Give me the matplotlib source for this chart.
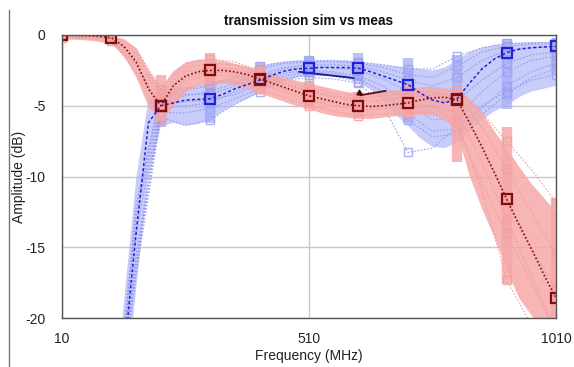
import numpy as np
import matplotlib
matplotlib.use("Agg")
import matplotlib.pyplot as plt
from matplotlib.lines import Line2D

plt.rcParams['font.family'] = ['Liberation Sans', 'DejaVu Sans']

# ---------------- data ----------------
# fine grid (25 MHz) for nominal curves and spread bands
freq = [10, 35, 60, 85, 110, 135, 160, 185, 210, 235, 260, 285, 310, 335, 360, 385,
        410, 435, 460, 485, 510, 535, 560, 585, 610, 635, 660, 685, 710, 735, 760, 785,
        810, 835, 860, 885, 910, 935, 960, 985, 1010]

sim_nominal = [0.0, 0.0, -0.05, -0.1, -0.2, -0.8, -1.9, -3.8, -5.0, -3.6, -2.9, -2.6, -2.5,
               -2.5, -2.6, -2.8, -3.1, -3.4, -3.7, -4.0, -4.3, -4.5, -4.7, -4.9, -5.0, -5.05,
               -5.0, -4.9, -4.8, -4.6, -4.45, -4.4, -4.6, -6.2, -7.9, -9.7, -11.6, -13.4,
               -15.1, -16.9, -18.6]

meas_nominal = [-30, -30, -30, -30, -30, -22.8, -14.0, -6.2, -5.0, -4.8, -4.6, -4.55, -4.5,
                -4.2, -3.8, -3.5, -3.2, -2.85, -2.55, -2.4, -2.35, -2.3, -2.3, -2.3, -2.35,
                -2.6, -2.9, -3.2, -3.5, -4.1, -4.6, -4.8, -4.5, -3.4, -2.4, -1.7, -1.25,
                -1.0, -0.9, -0.85, -0.8]

meas_band_hi = [-30, -30, -30, -30, -28, -19.0, -10.2, -4.6, -4.0, -3.8, -3.7, -3.6, -3.4,
                -3.2, -2.9, -2.6, -2.3, -2.0, -1.9, -1.8, -1.8, -1.8, -1.8, -1.8, -1.9,
                -2.0, -2.1, -2.2, -2.3, -2.4, -2.5, -2.3, -1.8, -1.2, -0.9, -0.7, -0.6,
                -0.55, -0.5, -0.5, -0.5]
meas_band_lo = [-30, -30, -30, -30, -32, -26.5, -18.0, -10.0, -6.5, -6.2, -6.4, -6.3, -6.0,
                -5.4, -4.9, -4.5, -4.1, -3.7, -3.3, -3.0, -2.9, -2.9, -2.9, -3.0, -3.3,
                -3.8, -4.6, -5.6, -6.4, -7.3, -7.9, -8.0, -7.6, -6.8, -6.0, -5.4, -5.0,
                -4.4, -4.0, -3.8, -3.6]

sim_band_hi = [0.1, 0.1, 0.05, 0.0, -0.05, -0.25, -0.9, -2.5, -3.7, -2.5, -1.9, -1.7, -1.7,
               -1.8, -2.0, -2.2, -2.5, -2.8, -3.0, -3.2, -3.4, -3.6, -3.8, -4.0, -4.1,
               -4.1, -4.0, -3.9, -3.8, -3.7, -3.7, -3.8, -3.9, -4.5, -5.5, -6.8, -8.0,
               -9.3, -10.5, -11.5, -12.5]
sim_band_lo = [-0.3, -0.3, -0.35, -0.45, -0.6, -1.5, -3.0, -5.1, -6.1, -5.0, -4.0, -3.5,
               -3.4, -3.4, -3.5, -3.8, -4.1, -4.4, -4.7, -5.0, -5.2, -5.5, -5.7, -5.8,
               -5.9, -5.9, -5.8, -5.7, -5.7, -5.6, -5.6, -5.9, -7.0, -10.0, -12.3, -14.3,
               -16.6, -18.6, -19.8, -21, -23]

# marker frequencies (100 MHz) and extent of the Monte-Carlo marker columns
mark_freq = [10, 110, 210, 310, 410, 510, 610, 710, 810, 910, 1010]
meas_col_hi = [np.nan, np.nan, -4.2, -3.4, -1.9, -1.5, -1.3, -1.6, -1.4, -0.3, -0.3]
meas_col_lo = [np.nan, np.nan, -6.5, -6.2, -4.2, -3.0, -3.2, -6.2, -4.0, -5.2, -2.5]
sim_col_hi = [0.05, 0.05, -2.8, -1.3, -2.3, -3.3, -4.0, -3.5, -3.8, -6.5, -11.5]
sim_col_lo = [-0.3, -0.5, -6.1, -3.4, -4.2, -5.2, -5.9, -5.8, -9.0, -17.6, -22]

# individual Monte-Carlo runs (50 MHz grid)
freq_mc = [10, 60, 110, 160, 210, 260, 310, 360, 410, 460, 510, 560, 610, 660, 710, 760,
           810, 860, 910, 960, 1010]
meas_runs = [
    [-30, -30, -30, -17, -5.8, -6.4, -6.0, -4.9, -4.0, -3.2, -3.0, -3.1, -3.4, -5.0, -8.3, -8.0, -6.5, -5.0, -4.0, -3.2, -2.8],
    [-30, -30, -30, -12, -4.2, -3.9, -3.6, -3.0, -2.4, -2.0, -1.9, -1.9, -2.0, -2.3, -2.8, -3.0, -2.2, -1.2, -0.8, -0.65, -0.6],
    [-30, -30, -30, -16, -5.5, -5.5, -5.2, -4.5, -3.8, -3.1, -2.8, -2.9, -3.3, -4.4, -6.0, -7.2, -7.0, -5.6, -4.2, -3.0, -2.4],
    [-30, -30, -30, -14, -4.8, -4.3, -4.0, -3.4, -2.8, -2.3, -2.1, -2.1, -2.2, -2.6, -3.2, -3.6, -3.0, -1.8, -1.1, -0.9, -0.8],
    [-30, -30, -30, -16.5, -5.2, -5.0, -4.8, -4.0, -3.4, -2.7, -2.5, -2.6, -2.9, -3.6, -4.8, -6.0, -5.8, -4.0, -2.6, -1.8, -1.5],
    [-30, -30, -30, -13, -4.5, -4.2, -4.2, -3.6, -3.0, -2.4, -2.2, -2.3, -2.5, -3.1, -4.0, -4.8, -4.6, -3.2, -2.0, -1.4, -1.2],
    [-30, -30, -30, -15.5, -5.0, -4.7, -4.6, -4.2, -3.5, -2.9, -2.6, -2.7, -3.1, -4.0, -5.5, -6.8, -6.6, -5.2, -3.6, -2.6, -2.0],
    [-30, -30, -30, -12.5, -4.0, -3.7, -3.5, -2.8, -2.2, -1.9, -1.8, -1.8, -1.9, -2.1, -2.4, -2.4, -1.5, -0.9, -0.6, -0.55, -0.5],
]
sim_runs = [
    [0.05, 0.0, -0.05, -1.0, -3.8, -2.0, -1.7, -1.9, -2.5, -3.2, -3.7, -4.1, -4.3, -4.1, -3.8, -3.7, -3.9, -5.5, -7.5, -9.5, -11.8],
    [-0.2, -0.25, -0.4, -2.6, -6.0, -3.8, -3.3, -3.3, -3.8, -4.4, -5.0, -5.4, -5.7, -5.6, -5.5, -5.5, -6.5, -10.5, -14.0, -17.5, -21.0],
    [-0.05, -0.1, -0.2, -1.6, -4.6, -2.6, -2.3, -2.4, -2.9, -3.5, -4.0, -4.4, -4.7, -4.6, -4.4, -4.2, -4.2, -6.5, -9.5, -12.5, -15.5],
    [-0.1, -0.15, -0.3, -2.2, -5.4, -3.2, -2.8, -2.9, -3.4, -4.0, -4.6, -5.0, -5.3, -5.2, -5.1, -5.0, -5.5, -9.0, -13.0, -17.0, -21.0],
    [0.0, -0.05, -0.15, -1.3, -4.2, -2.3, -2.0, -2.1, -2.7, -3.4, -3.9, -4.3, -4.5, -4.3, -4.1, -4.0, -4.5, -8.0, -11.5, -15.0, -18.0],
    [-0.1, -0.2, -0.3, -2.0, -5.0, -3.0, -2.6, -2.7, -3.2, -3.8, -4.4, -4.8, -5.1, -5.0, -4.9, -5.0, -6.2, -11.0, -17.3, -20.5, -24],
]

# short measured traces
meas_trace_f = [490, 510, 530, 550, 570, 590, 600]
meas_trace_v = [-2.6, -2.68, -2.76, -2.84, -2.92, -3.0, -3.05]
sim_trace_f = [615, 640, 665]
sim_trace_v = [-4.25, -4.1, -3.95]
flag_f = [611]
flag_v = [-4.0]

x_ticks = [10, 510, 1010]
y_ticks = [0, -5, -10, -15, -20]

# ---------------- colours ----------------
BLUE_BAND = '#abb1f6'
RED_BAND = '#f6a8a8'
BLUE_DARK = '#1f22d6'
RED_DARK = '#800d0d'

W, H = 574, 367
fig = plt.figure(figsize=(W / 100, H / 100), dpi=100)
ax = fig.add_axes([62 / W, 1 - 318 / H, (556 - 62) / W, (318 - 35) / H])

# grid
ax.set_axisbelow(True)
ax.grid(True, color='#c9c9c9', linewidth=1.0)

# blue (measured) spread
ax.fill_between(freq, meas_band_lo, meas_band_hi, color=BLUE_BAND, alpha=0.65, linewidth=0, zorder=1)
ax.vlines(mark_freq, meas_col_lo, meas_col_hi, color=BLUE_BAND, linewidth=7.5, alpha=0.8, zorder=1.2)
for run in meas_runs:
    ax.plot(freq_mc, run, linestyle=(0, (1.5, 1.5)), color='#8d93ee', linewidth=0.8, alpha=0.85,
            marker='s', markevery=2, markersize=6, markerfacecolor='none',
            markeredgecolor='#9ca2f2', markeredgewidth=1.0, zorder=1.5)

# red (simulated) spread
ax.fill_between(freq, sim_band_lo, sim_band_hi, color=RED_BAND, alpha=0.85, linewidth=0, zorder=2)
ax.vlines(mark_freq, sim_col_lo, sim_col_hi, color=RED_BAND, linewidth=7.5, alpha=0.85, zorder=2.2)
for run in sim_runs:
    ax.plot(freq_mc, run, linestyle=(0, (1.5, 1.5)), color='#ef9a9a', linewidth=0.8, alpha=0.9,
            marker='s', markevery=2, markersize=6, markerfacecolor='none',
            markeredgecolor='#f2a2a2', markeredgewidth=1.0, zorder=2.5)

# short measured traces
ax.plot(meas_trace_f, meas_trace_v, color='#1a1a8c', linewidth=1.3, zorder=3)
ax.plot(sim_trace_f, sim_trace_v, color='#5a1010', linewidth=1.3, zorder=3)
ax.plot(flag_f, flag_v, linestyle='none', marker='^', markersize=3.5, color='#3a0a0a', zorder=3)

# nominal curves
ax.plot(freq, meas_nominal, linestyle=(0, (2, 1.5)), color=BLUE_DARK, linewidth=1.1,
        marker='s', markevery=4, markersize=7, markerfacecolor='none',
        markeredgecolor=BLUE_DARK, markeredgewidth=1.6, zorder=4)
ax.plot(freq, sim_nominal, linestyle=(0, (1, 1.3)), color=RED_DARK, linewidth=1.2,
        marker='s', markevery=4, markersize=7, markerfacecolor='none',
        markeredgecolor=RED_DARK, markeredgewidth=1.6, zorder=5)

ax.set_xlim(10, 1010)
ax.set_ylim(-20, 0)
ax.set_xticks(x_ticks)
ax.set_xticklabels([str(v) for v in x_ticks])
ax.set_yticks(y_ticks)
ax.set_yticklabels([str(v) for v in y_ticks])
ax.tick_params(axis='both', length=0, labelsize=10, colors='#222222')
ax.tick_params(axis='y', pad=12)
ax.tick_params(axis='x', pad=10)
for sp in ax.spines.values():
    sp.set_color('#555555')
    sp.set_linewidth(1.0)
    sp.set_zorder(6)

ax.set_title('transmission sim vs meas', fontsize=9.8, fontweight='bold', pad=7, color='#111111')
ax.set_xlabel('Frequency (MHz)', fontsize=10, labelpad=2, color='#222222')
ax.set_ylabel('Amplitude (dB)', fontsize=10, color='#222222')
ax.yaxis.set_label_coords((26 - 62) / (556 - 62), 0.5)

# thin frame line at the left of the picture
fig.add_artist(Line2D([9 / W, 9 / W], [0, 1 - 10 / H], color='#777777', linewidth=1.0))

fig.savefig('out.png', dpi=100)
